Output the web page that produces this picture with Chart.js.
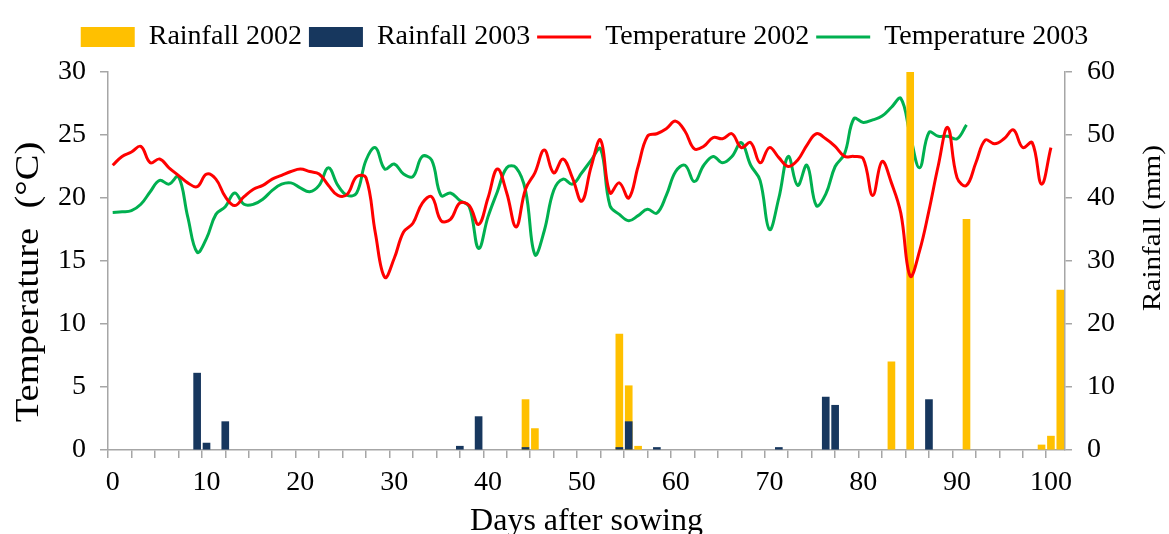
<!DOCTYPE html>
<html>
<head>
<meta charset="utf-8">
<script src="https://cdn.jsdelivr.net/npm/chart.js@4.4.1/dist/chart.umd.min.js"></script>
<style>
  html, body { margin: 0; padding: 0; background: #fff; }
  #wrap { width: 1169px; height: 534px; }
</style>
</head>
<body>
<div id="wrap"><canvas id="weatherChart"></canvas></div>
<script>
// daily mean temperature (°C), index = days after sowing
const temp2002 = [22.6, 23.3, 23.65, 24.1, 22.8, 23.1, 22.4, 21.8, 21.2, 20.9,
    21.9, 21.5, 20.1, 19.4, 20.1, 20.7, 21.0, 21.5, 21.8, 22.1,
    22.3, 22.1, 21.9, 21.0, 20.2, 20.3, 21.7, 21.6, 17.2, 13.7,
    15.2, 17.3, 18.0, 19.6, 20.1, 18.2, 18.3, 19.6, 19.4, 17.9,
    20.0, 22.3, 20.4, 17.7, 20.7, 22.0, 23.8, 22.0, 23.1, 21.6,
    19.75, 22.5, 24.6, 20.4, 21.2, 20.0, 22.5, 24.9, 25.1, 25.5,
    26.1, 25.3, 23.9, 24.1, 24.8, 24.7, 25.1, 24.0, 24.4, 22.8,
    24.0, 23.2, 22.5, 23.0, 24.2, 25.1, 24.7, 24.1, 23.3, 23.3,
    23.1, 20.2, 22.9, 21.2, 18.8, 13.8, 15.8, 19.0, 22.6, 25.6,
    21.6, 21.0, 22.8, 24.6, 24.3, 24.7, 25.4, 24.0, 24.4, 21.1,
    24.0];
const temp2003 = [18.85, 18.9, 19.0, 19.5, 20.5, 21.4, 21.1, 21.7, 18.5, 15.7,
    16.8, 18.7, 19.3, 20.4, 19.5, 19.5, 19.9, 20.6, 21.1, 21.2,
    20.8, 20.5, 21.0, 22.4, 21.0, 20.2, 20.4, 23.0, 24.0, 22.3,
    22.7, 21.9, 21.7, 23.3, 23.0, 20.2, 20.4, 19.8, 19.3, 16.0,
    18.5, 20.5, 22.4, 22.4, 20.6, 15.5, 17.4, 20.6, 21.5, 21.1,
    22.0, 23.0, 23.9, 19.4, 18.7, 18.2, 18.6, 19.1, 18.8, 20.2,
    22.1, 22.6, 21.3, 22.6, 23.3, 22.8, 23.3, 24.4, 22.6, 21.4,
    17.5, 20.0, 23.3, 21.0, 22.6, 19.4, 20.3, 22.5, 23.5, 26.3,
    26.0, 26.2, 26.5, 27.2, 27.9, 25.0, 22.4, 25.2, 24.9, 24.9,
    24.7, 25.8];

// rainfall events (mm)
const rainDays2002 = [44, 45, 54, 55, 56, 83, 85, 91, 99, 100, 101];
const rain2002 = [8.0, 3.4, 18.4, 10.2, 0.6, 14.0, 60, 36.6, 0.8, 2.2, 25.4];
const rainDays2003 = [9, 10, 12, 37, 39, 44, 54, 55, 58, 71, 76, 77, 87];
const rain2003 = [12.2, 1.1, 4.5, 0.6, 5.3, 0.4, 0.4, 4.5, 0.4, 0.4, 8.4, 7.1, 8.0];

const dayTicks = [0, 10, 20, 30, 40, 50, 60, 70, 80, 90, 100];

const AXIS_GREY = '#a6a6a6';
const FONT = "'Liberation Serif', 'Times New Roman', serif";

Chart.defaults.font.family = FONT;
Chart.defaults.color = '#000';

const toPoints = (days, vals) => vals.map((v, i) => ({x: days ? days[i] : i, y: v}));

// push the plot area down a little below the legend
const legendMargin = {
    id: 'legendMargin',
    beforeInit(chart) {
        const fit = chart.legend.fit;
        chart.legend.fit = function () {
            fit.bind(chart.legend)();
            this.height += 11;
        };
    }
};

// both y titles read bottom-to-top, slightly stretched like the original
function drawRotated(ctx, text, x, y, size, stretch) {
    ctx.save();
    ctx.translate(x, y);
    ctx.rotate(-Math.PI / 2);
    ctx.scale(stretch, 1);
    ctx.font = size + 'px ' + FONT;
    ctx.fillStyle = '#000';
    ctx.textAlign = 'center';
    ctx.textBaseline = 'alphabetic';
    ctx.fillText(text, 0, 0);
    ctx.restore();
}

const yTitles = {
    id: 'yTitles',
    afterDraw(chart) {
        const {ctx, chartArea, scales} = chart;
        const mid = (chartArea.top + chartArea.bottom) / 2;
        drawRotated(ctx, 'Temperature  (°C)', scales.y.left + 38, mid + 21, 33, 1.17);
        drawRotated(ctx, 'Rainfall (mm)', scales.y2.right - 9, mid - 33, 26, 1.12);
    }
};

new Chart(document.getElementById('weatherChart'), {
    data: {
        datasets: [{
            type: 'bar',
            label: 'Rainfall 2002',
            data: toPoints(rainDays2002, rain2002),
            backgroundColor: '#ffc000',
            borderWidth: 0,
            pointStyle: 'rect',
            barThickness: 7,
            grouped: false,
            xAxisID: 'x',
            yAxisID: 'y2',
            order: 2
        }, {
            type: 'bar',
            label: 'Rainfall 2003',
            data: toPoints(rainDays2003, rain2003),
            backgroundColor: '#17375e',
            borderWidth: 0,
            pointStyle: 'rect',
            barThickness: 7,
            grouped: false,
            xAxisID: 'x',
            yAxisID: 'y2',
            order: 1
        }, {
            type: 'line',
            label: 'Temperature 2002',
            data: toPoints(null, temp2002),
            borderColor: '#ff0000',
            backgroundColor: '#ff0000',
            borderWidth: 3,
            pointRadius: 0,
            pointStyle: 'line',
            tension: 0.4,
            xAxisID: 'x',
            yAxisID: 'y',
            order: 0
        }, {
            type: 'line',
            label: 'Temperature 2003',
            data: toPoints(null, temp2003),
            borderColor: '#00b050',
            backgroundColor: '#00b050',
            borderWidth: 3,
            pointRadius: 0,
            pointStyle: 'line',
            tension: 0.4,
            xAxisID: 'x',
            yAxisID: 'y',
            order: 3
        }]
    },
    options: {
        responsive: true,
        maintainAspectRatio: false,
        animation: false,
        layout: { padding: { top: 16, left: 0, right: 0, bottom: 0 } },
        plugins: {
            tooltip: { enabled: false },
            legend: {
                position: 'top',
                labels: {
                    usePointStyle: true,
                    pointStyleWidth: 54,
                    boxHeight: 20,
                    padding: 7,
                    font: { size: 28 },
                    sort: (a, b) => a.datasetIndex - b.datasetIndex
                }
            }
        },
        scales: {
            // tick marks every 2.5 days on the category boundaries
            x: {
                type: 'linear',
                position: 'bottom',
                offset: false,
                min: -0.5,
                max: 101.5,
                weight: 0,
                afterBuildTicks: (scale) => {
                    const t = [];
                    for (let v = -0.5; v < 101; v += 2.5) t.push({value: v});
                    scale.ticks = t;
                },
                afterFit: (scale) => { scale.height = 8; },
                ticks: { display: false },
                grid: { offset: false, drawOnChartArea: false, drawTicks: true, tickLength: 8, color: AXIS_GREY, lineWidth: 1.5 },
                border: { display: true, color: AXIS_GREY, width: 1.5 }
            },
            // day labels centred on their day
            xl: {
                type: 'linear',
                position: 'bottom',
                offset: false,
                min: -0.5,
                max: 101.5,
                weight: 1,
                afterBuildTicks: (scale) => {
                    scale.ticks = dayTicks.map(v => ({value: v}));
                },
                afterFit: (scale) => { scale.height = 76; },
                ticks: { font: { size: 28 }, padding: 8, maxRotation: 0, autoSkip: false },
                grid: { display: false, drawTicks: false },
                border: { display: false },
                title: {
                    display: true,
                    text: 'Days after sowing',
                    font: { size: 32 },
                    padding: { top: 0, bottom: -7 }
                }
            },
            y: {
                type: 'linear',
                position: 'left',
                min: 0,
                max: 30,
                ticks: { stepSize: 5, font: { size: 28 }, padding: 14 },
                afterFit: (scale) => { scale.width = 108; },
                grid: { drawOnChartArea: false, tickLength: 8, color: AXIS_GREY, lineWidth: 1.5 },
                border: { display: true, color: AXIS_GREY, width: 1.5 }
            },
            y2: {
                type: 'linear',
                position: 'right',
                min: 0,
                max: 60,
                ticks: { stepSize: 10, font: { size: 28 }, padding: 15 },
                afterFit: (scale) => { scale.width = 104; },
                grid: { drawOnChartArea: false, tickLength: 7, color: AXIS_GREY, lineWidth: 1.5 },
                border: { display: true, color: AXIS_GREY, width: 1.5 }
            }
        }
    },
    plugins: [legendMargin, yTitles]
});
</script>
</body>
</html>
